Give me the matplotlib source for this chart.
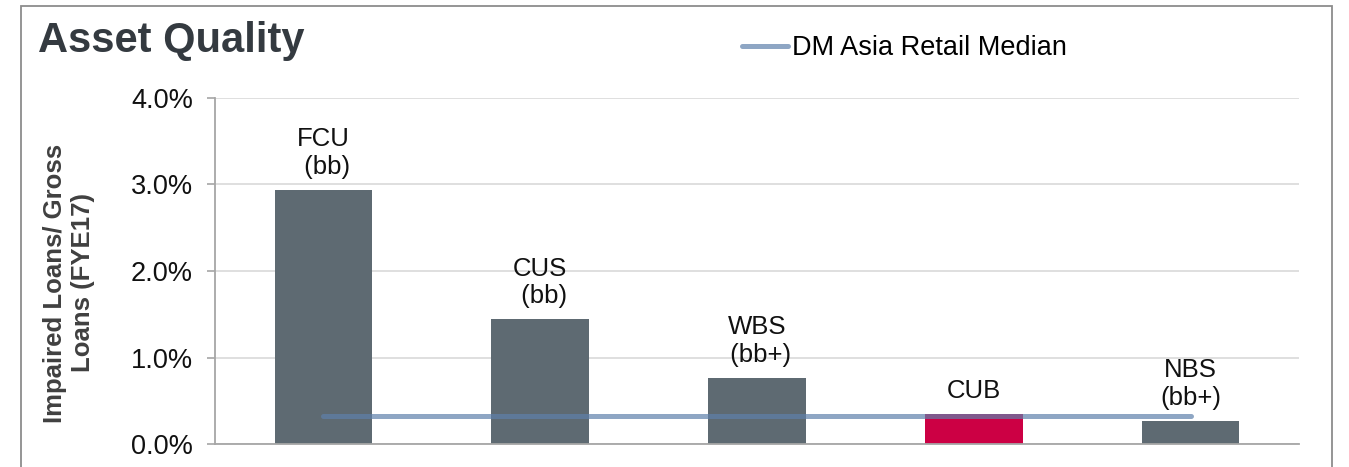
import matplotlib.pyplot as plt
from matplotlib.patches import Rectangle
from matplotlib.ticker import FuncFormatter

plt.rcParams['font.family'] = ['Liberation Sans', 'DejaVu Sans']

# data (impaired loans / gross loans, %)
banks = ["FCU\n (bb)", "CUS\n (bb)", "WBS\n (bb+)", "CUB", "NBS\n(bb+)"]
impaired = [2.94, 1.44, 0.76, 0.35, 0.27]
bar_colors = ['#5e6a72', '#5e6a72', '#5e6a72', '#cc0044', '#5e6a72']
median = [0.32, 0.32, 0.32, 0.32, 0.32]
y_ticks = [0.0, 1.0, 2.0, 3.0, 4.0]

W, H = 1349, 467
fig = plt.figure(figsize=(W / 100, H / 100), dpi=100)
ax = fig.add_axes([215 / W, 1 - 444 / H, (1299 - 215) / W, (444 - 98) / H])

x = list(range(len(banks)))
bars = ax.bar(x, impaired, width=0.45, color=bar_colors, zorder=2)
ax.plot(x, median, color='#5f80ab', alpha=0.7, lw=3.6, solid_capstyle='round',
        zorder=3, label="DM Asia Retail Median")

# bank labels above each bar
for xi, val, name in zip(x, impaired, banks):
    ax.annotate(name, (xi, val), xytext=(0, 8), textcoords='offset points',
                ha='center', va='bottom', fontsize=18.5, multialignment='center',
                color='#111111', zorder=4)

ax.set_xlim(-0.5, len(banks) - 0.5)
ax.set_ylim(0, 4.0)
ax.set_yticks(y_ticks)
ax.yaxis.set_major_formatter(FuncFormatter(lambda v, p: f"{v:.1f}%"))
ax.set_xticks([])
ax.tick_params(axis='y', labelsize=19.5, length=6, width=1.2, color='#a6a6a6',
               pad=10, labelcolor='#111111')
ax.grid(axis='y', color='#d9d9d9', lw=1.2, zorder=0)
ax.set_axisbelow(True)

for s in ['top', 'right']:
    ax.spines[s].set_visible(False)
for s in ['left', 'bottom']:
    ax.spines[s].set_color('#a6a6a6')
    ax.spines[s].set_linewidth(1.3)

ax.set_ylabel("Impaired Loans/ Gross\nLoans (FYE17)", fontsize=18.5,
              fontweight='bold', color='#404040', va='center')
ax.yaxis.set_label_coords((69 - 215) / (1299 - 215), (444 - 283) / (444 - 98))

fig.text(38 / W, 1 - 52 / H, "Asset Quality", fontsize=30, fontweight='bold',
         color='#343a40', va='baseline', ha='left')

fig.legend(loc='center left', bbox_to_anchor=(742 / W, 1 - 48 / H),
           frameon=False, fontsize=19.5, handlelength=1.7, handletextpad=0.15,
           borderpad=0, borderaxespad=0)

# outer frame around the slide region
fig.patches.append(Rectangle((21 / W, -0.1), (1332 - 21) / W, 1.1 - 6 / H,
                             transform=fig.transFigure, fill=False,
                             edgecolor='#8c8c8c', lw=1.3))

plt.savefig("out.png", dpi=100)
